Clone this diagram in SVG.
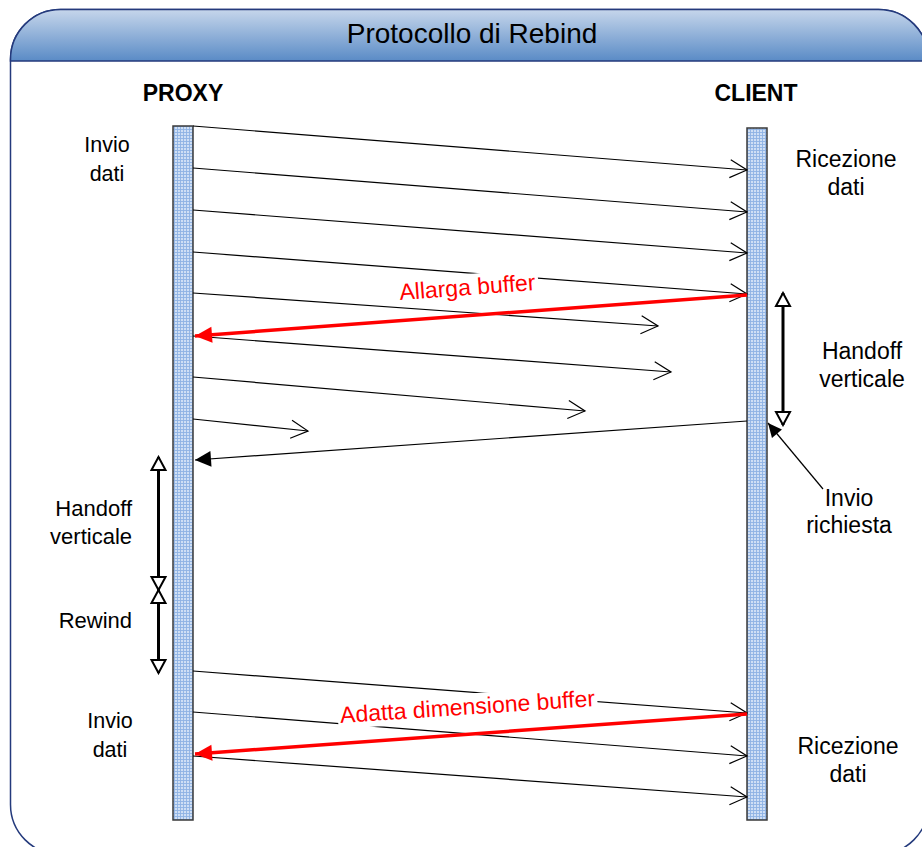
<svg xmlns="http://www.w3.org/2000/svg" width="922" height="847" viewBox="0 0 922 847">
  <style>
    .lbl { font-family: "Liberation Sans", Arial, sans-serif; font-size: 22px; fill: #000; }
    .lsm { font-family: "Liberation Sans", Arial, sans-serif; font-size: 21.5px; fill: #000; }
    .lblr { font-family: "Liberation Sans", Arial, sans-serif; font-size: 23px; fill: #000; }
    .actor { font-family: "Liberation Sans", Arial, sans-serif; font-size: 23px; font-weight: bold; fill: #000; }
    .title { font-family: "Liberation Sans", Arial, sans-serif; font-size: 28px; fill: #000; }
    .red { font-family: "Liberation Sans", Arial, sans-serif; font-size: 23px; fill: #ff0000; }
    .msg { stroke: #000; stroke-width: 1.2; fill: none; marker-end: url(#open); }
    .ret { stroke: #ff0000; stroke-width: 3.5; fill: none; marker-end: url(#redHead); }
    .span { stroke: #000; stroke-width: 3; fill: none; marker-start: url(#hollow); marker-end: url(#hollow); }
    .bar { fill: url(#grid); stroke: #3a3a3a; stroke-width: 1.5; }
  </style>
  <defs>
    <linearGradient id="hdr" x1="0" y1="0" x2="0" y2="1">
      <stop offset="0" stop-color="#c6d6eb"/>
      <stop offset="1" stop-color="#5a8bc6"/>
    </linearGradient>
    <pattern id="grid" width="3" height="3" patternUnits="userSpaceOnUse">
      <rect width="3" height="3" fill="#cfdff5"/>
      <path d="M0 0.5 H3 M0.5 0 V3" stroke="#8fb2e4" stroke-width="0.9"/>
    </pattern>
    <marker id="open" markerUnits="userSpaceOnUse" viewBox="-20 -12 22 24" refX="0" refY="0" markerWidth="22" markerHeight="24" orient="auto">
      <path d="M-17 -9 L0 0 L-17 9" fill="none" stroke="#000" stroke-width="1.2"/>
    </marker>
    <marker id="redHead" markerUnits="userSpaceOnUse" viewBox="-20 -12 22 24" refX="0" refY="0" markerWidth="22" markerHeight="24" orient="auto">
      <path d="M-17 -8 L0 0 L-17 8 Z" fill="#ff0000"/>
    </marker>
    <marker id="blackHead" markerUnits="userSpaceOnUse" viewBox="-20 -12 22 24" refX="0" refY="0" markerWidth="22" markerHeight="24" orient="auto">
      <path d="M-16 -8 L0 0 L-16 8 Z" fill="#000"/>
    </marker>
    <marker id="callHead" markerUnits="userSpaceOnUse" viewBox="-16 -10 18 20" refX="0" refY="0" markerWidth="18" markerHeight="20" orient="auto">
      <path d="M-14 -6.5 L0 0 L-14 6.5 Z" fill="#000"/>
    </marker>
    <marker id="hollow" markerUnits="userSpaceOnUse" viewBox="-16 -10 18 20" refX="0" refY="0" markerWidth="18" markerHeight="20" orient="auto-start-reverse">
      <path d="M-13 -7 L0 0 L-13 7 Z" fill="#fff" stroke="#000" stroke-width="2"/>
    </marker>
  </defs>

  <!-- frame with title band -->
  <g id="frame">
    <rect x="10.5" y="9.5" width="918" height="845" rx="50" ry="50" fill="#fff" stroke="#243a7c" stroke-width="1.5"/>
    <path d="M10.5 61 V59.5 A50 50 0 0 1 60.5 9.5 H878.5 A50 50 0 0 1 928.5 59.5 V61 Z" fill="url(#hdr)" stroke="#243a7c" stroke-width="1.5"/>
    <text class="title" x="472" y="43" text-anchor="middle">Protocollo di Rebind</text>
  </g>

  <!-- participants -->
  <g id="proxy">
    <text class="actor" x="183" y="101" text-anchor="middle">PROXY</text>
    <rect class="bar" x="173" y="126" width="20" height="694"/>
  </g>
  <g id="client">
    <text class="actor" x="756" y="101" text-anchor="middle">CLIENT</text>
    <rect class="bar" x="747" y="128" width="20" height="692"/>
  </g>

  <!-- messages -->
  <g id="connectors">
    <line class="msg" x1="193" y1="126" x2="747" y2="170"/>
    <line class="msg" x1="193" y1="168" x2="747" y2="212"/>
    <line class="msg" x1="193" y1="210" x2="747" y2="253"/>
    <line class="msg" x1="193" y1="252" x2="747" y2="294"/>
    <line class="msg" x1="193" y1="293" x2="658" y2="326"/>
    <line class="msg" x1="193" y1="336" x2="671" y2="372"/>
    <line class="msg" x1="193" y1="377" x2="585" y2="411"/>
    <line class="msg" x1="193" y1="419" x2="308" y2="431"/>
    <line x1="747" y1="421" x2="195" y2="460" stroke="#000" stroke-width="1.2" marker-end="url(#blackHead)"/>

    <line class="msg" x1="193" y1="671" x2="747" y2="713"/>
    <line class="msg" x1="193" y1="712" x2="747" y2="756"/>
    <line class="msg" x1="193" y1="756" x2="747" y2="797"/>

    <!-- callout for the request -->
    <line x1="823" y1="489" x2="768" y2="423" stroke="#000" stroke-width="1.2" marker-end="url(#callHead)"/>

    <!-- interval spans -->
    <line class="span" x1="783" y1="293" x2="783" y2="425"/>
    <line class="span" x1="158.5" y1="457" x2="158.5" y2="590"/>
    <line class="span" x1="158.5" y1="590" x2="158.5" y2="673"/>
  </g>

  <!-- control messages -->
  <g id="allarga">
    <g transform="rotate(-4.3 468 295)">
      <rect x="397" y="274" width="142" height="27" fill="#fff"/>
      <text class="red" x="468" y="295" text-anchor="middle">Allarga buffer</text>
    </g>
    <line class="ret" x1="747" y1="295" x2="195" y2="336"/>
  </g>
  <g id="adatta">
    <g transform="rotate(-3.8 468 714.5)">
      <rect x="338" y="693.5" width="260" height="27" fill="#fff"/>
      <text class="red" x="468" y="714.5" text-anchor="middle">Adatta dimensione buffer</text>
    </g>
    <line class="ret" x1="747" y1="714" x2="195" y2="754"/>
  </g>

  <!-- side annotations -->
  <g id="proxy-invio-top">
    <text class="lsm" x="107" y="152" text-anchor="middle">Invio</text>
    <text class="lsm" x="107" y="181" text-anchor="middle">dati</text>
  </g>
  <g id="client-ricezione-top">
    <text class="lblr" x="846" y="167" text-anchor="middle">Ricezione</text>
    <text class="lblr" x="846" y="195" text-anchor="middle">dati</text>
  </g>
  <g id="client-handoff">
    <text class="lblr" x="862" y="359" text-anchor="middle">Handoff</text>
    <text class="lblr" x="862" y="387" text-anchor="middle">verticale</text>
  </g>
  <g id="client-richiesta">
    <text class="lblr" x="849" y="506" text-anchor="middle">Invio</text>
    <text class="lblr" x="849" y="533" text-anchor="middle">richiesta</text>
  </g>
  <g id="proxy-handoff">
    <text class="lbl" x="132" y="516" text-anchor="end">Handoff</text>
    <text class="lbl" x="132" y="544" text-anchor="end">verticale</text>
  </g>
  <g id="proxy-rewind">
    <text class="lbl" x="132" y="628" text-anchor="end">Rewind</text>
  </g>
  <g id="proxy-invio-bottom">
    <text class="lsm" x="110" y="728" text-anchor="middle">Invio</text>
    <text class="lsm" x="110" y="757" text-anchor="middle">dati</text>
  </g>
  <g id="client-ricezione-bottom">
    <text class="lblr" x="848" y="754" text-anchor="middle">Ricezione</text>
    <text class="lblr" x="848" y="782" text-anchor="middle">dati</text>
  </g>
</svg>
